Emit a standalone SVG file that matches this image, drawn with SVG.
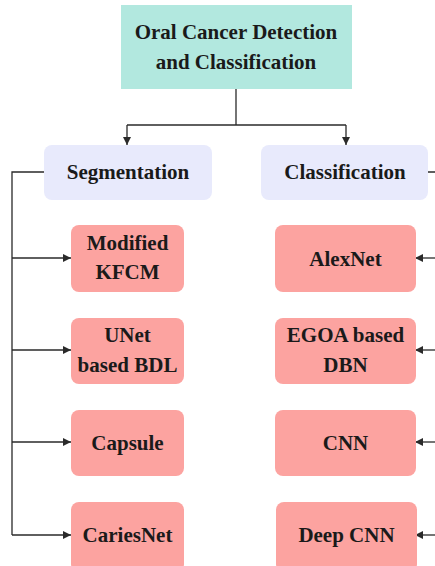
<svg xmlns="http://www.w3.org/2000/svg" width="435" height="566" viewBox="0 0 435 566">
  <defs>
    <style>
      .lbl { font-family: "Liberation Serif", "Times New Roman", serif; font-weight: bold; font-size: 21px; fill: #1a1a1a; text-anchor: middle; dominant-baseline: central; }
      .root { fill: #b2e8df; }
      .cat { fill: #e8eafc; }
      .leaf { fill: #fca3a0; }
      .wire { fill: none; stroke: #2a2a2a; stroke-width: 1.3; }
    </style>
    <marker id="arr" viewBox="0 0 10 10" refX="10" refY="5" markerWidth="8" markerHeight="8" markerUnits="userSpaceOnUse" orient="auto">
      <path d="M0,0 L10,5 L0,10 z" fill="#2a2a2a"/>
    </marker>
  </defs>
  <rect width="435" height="566" fill="#ffffff"/>

  <!-- tree connectors -->
  <g id="connectors">
    <path class="wire" d="M236,89 V125"/>
    <path class="wire" d="M127,125 H346"/>
    <path class="wire" d="M127,125 V145" marker-end="url(#arr)"/>
    <path class="wire" d="M346,125 V145" marker-end="url(#arr)"/>
    <path class="wire" d="M44,172 H12 V535"/>
    <path class="wire" d="M12,258 H71" marker-end="url(#arr)"/>
    <path class="wire" d="M12,350 H71" marker-end="url(#arr)"/>
    <path class="wire" d="M12,442 H71" marker-end="url(#arr)"/>
    <path class="wire" d="M12,535 H71" marker-end="url(#arr)"/>
    <path class="wire" d="M428,172 H436 V566"/>
    <path class="wire" d="M436,258 H415" marker-end="url(#arr)"/>
    <path class="wire" d="M436,350 H415" marker-end="url(#arr)"/>
    <path class="wire" d="M436,442 H415" marker-end="url(#arr)"/>
    <path class="wire" d="M436,535 H415" marker-end="url(#arr)"/>
  </g>

  <g id="root">
    <rect class="root" x="121" y="5" width="231" height="84"/>
    <text class="lbl" x="236" y="32">Oral Cancer Detection</text>
    <text class="lbl" x="236" y="62">and Classification</text>
  </g>

  <g id="segmentation">
    <rect class="cat" x="44" y="145" width="168" height="55" rx="8"/>
    <text class="lbl" x="128" y="172">Segmentation</text>
  </g>
  <g id="classification">
    <rect class="cat" x="261" y="145" width="167" height="55" rx="8"/>
    <text class="lbl" x="345" y="172">Classification</text>
  </g>

  <g id="modified-kfcm">
    <rect class="leaf" x="71" y="225" width="113" height="67" rx="8"/>
    <text class="lbl" x="127.5" y="243">Modified</text>
    <text class="lbl" x="127.5" y="272">KFCM</text>
  </g>
  <g id="unet-bdl">
    <rect class="leaf" x="71" y="318" width="113" height="66" rx="8"/>
    <text class="lbl" x="127.5" y="335">UNet</text>
    <text class="lbl" x="127.5" y="365">based BDL</text>
  </g>
  <g id="capsule">
    <rect class="leaf" x="71" y="410" width="113" height="66" rx="8"/>
    <text class="lbl" x="127.5" y="443">Capsule</text>
  </g>
  <g id="cariesnet">
    <rect class="leaf" x="71" y="502" width="113" height="70" rx="8"/>
    <text class="lbl" x="127.5" y="535">CariesNet</text>
  </g>

  <g id="alexnet">
    <rect class="leaf" x="275" y="225" width="141" height="67" rx="8"/>
    <text class="lbl" x="345.5" y="259">AlexNet</text>
  </g>
  <g id="egoa-dbn">
    <rect class="leaf" x="275" y="318" width="141" height="66" rx="8"/>
    <text class="lbl" x="345.5" y="335">EGOA based</text>
    <text class="lbl" x="345.5" y="365">DBN</text>
  </g>
  <g id="cnn">
    <rect class="leaf" x="275" y="410" width="141" height="66" rx="8"/>
    <text class="lbl" x="345.5" y="443">CNN</text>
  </g>
  <g id="deep-cnn">
    <rect class="leaf" x="276" y="502" width="141" height="70" rx="8"/>
    <text class="lbl" x="346.5" y="535">Deep CNN</text>
  </g>
</svg>
